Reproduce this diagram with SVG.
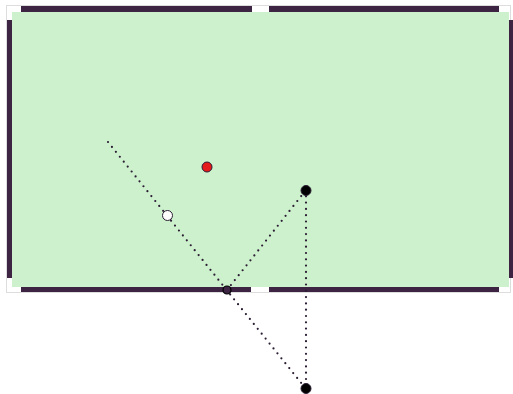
<svg xmlns="http://www.w3.org/2000/svg" width="513" height="394" viewBox="0 0 513 394">
<style>
.cushion{fill:#3d2443}
.path{fill:none;stroke:#2b1d33;stroke-width:2.2;stroke-linecap:round;stroke-dasharray:0 6.3}
.ball{stroke:#2b1d33;stroke-width:1}
</style>
<rect width="513" height="394" fill="#ffffff"/>
<g id="table">
<rect x="6.5" y="5.5" width="504" height="287" fill="#ffffff" stroke="#dddddd" stroke-width="1"/>
<rect x="12" y="12" width="497" height="275" fill="#ccf1cc"/>
<rect class="cushion" x="21" y="6" width="231" height="6"/>
<rect class="cushion" x="269" y="6" width="230" height="6"/>
<rect class="cushion" x="21" y="287" width="230" height="5"/>
<rect class="cushion" x="269" y="287" width="230" height="5"/>
<rect class="cushion" x="7" y="20" width="5" height="258"/>
<rect class="cushion" x="509" y="20" width="5" height="258"/>
</g>
<g id="connectors">
<line class="path" x1="108" y1="142" x2="306" y2="389"/>
<line class="path" x1="227" y1="290" x2="306" y2="190"/>
<line class="path" x1="306" y1="190" x2="306" y2="389"/>
</g>
<g id="red-ball"><circle class="ball" cx="207" cy="167" r="5" fill="#e41a1c"/></g>
<g id="cue-ball"><circle class="ball" cx="167.5" cy="215.5" r="5" fill="#ffffff"/></g>
<g id="black-ball"><circle class="ball" cx="306" cy="190.5" r="5" fill="#000000"/></g>
<g id="ghost-ball"><circle class="ball" cx="306" cy="388.5" r="5" fill="#000000"/></g>
<g id="bank-point"><circle cx="227" cy="290" r="4" fill="#3d2443" stroke="#000000" stroke-width="1.2"/></g>
</svg>
